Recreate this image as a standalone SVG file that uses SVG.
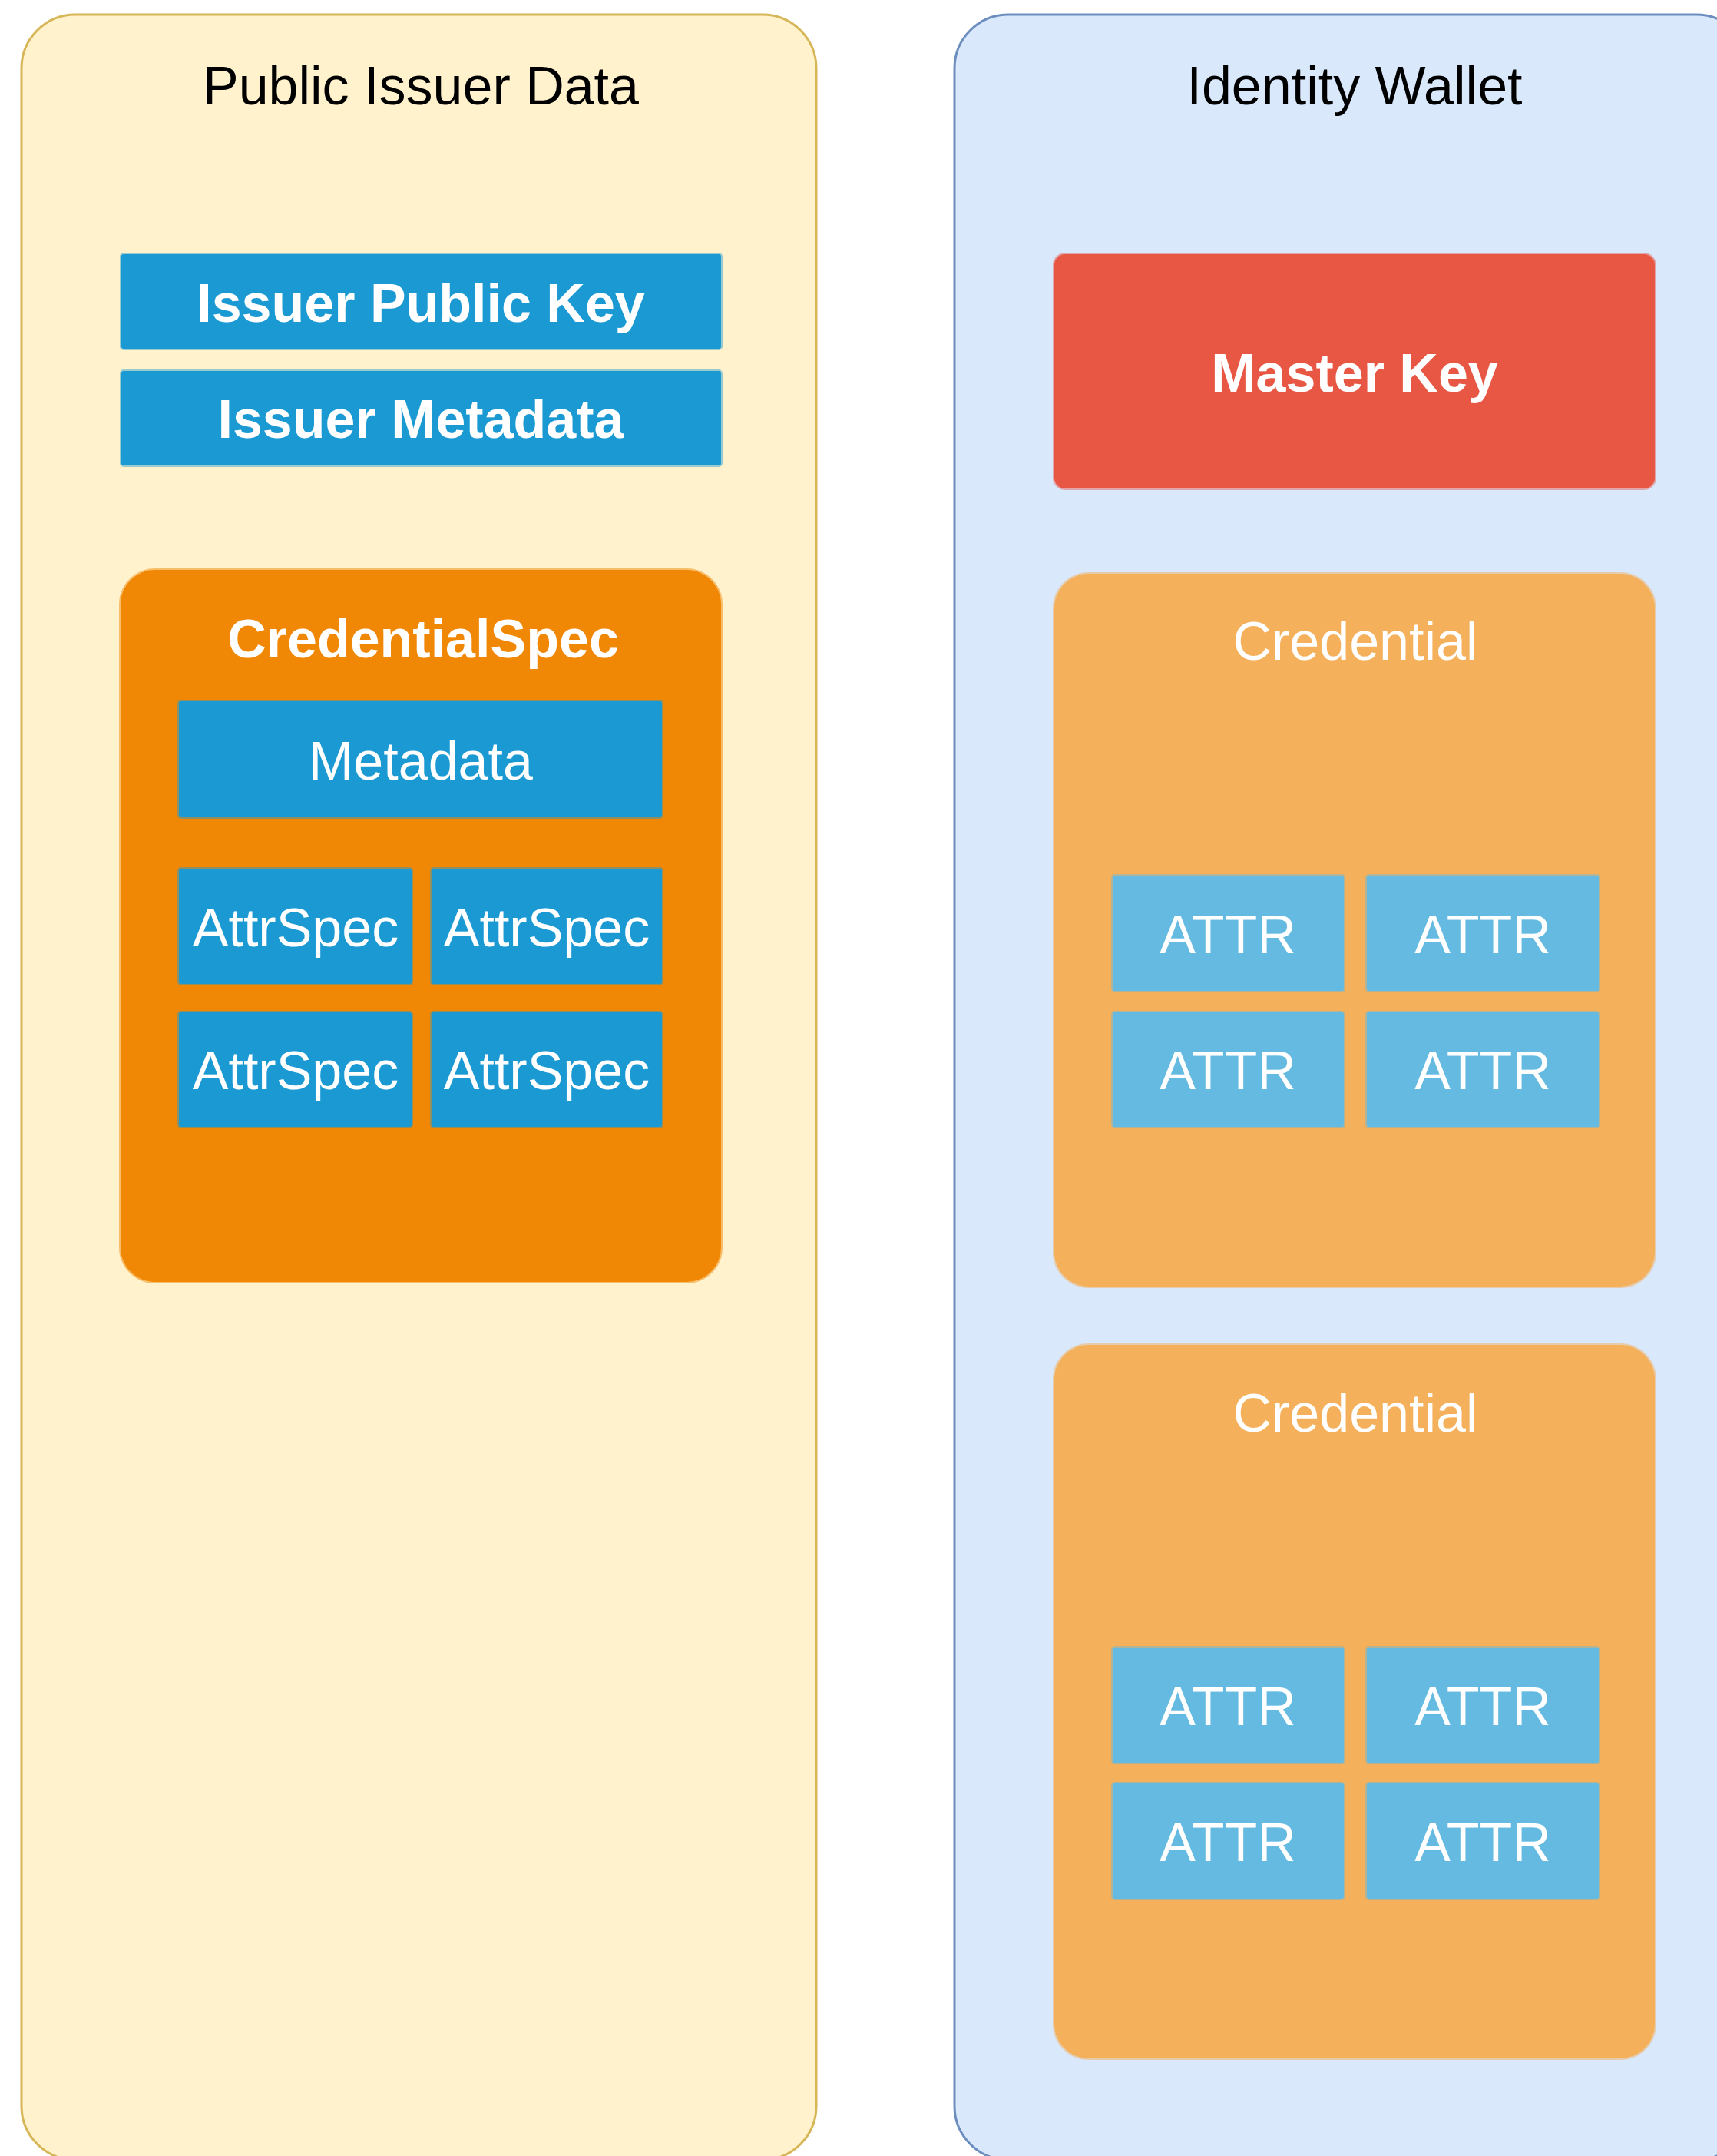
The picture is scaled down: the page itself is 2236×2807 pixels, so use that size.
<svg xmlns="http://www.w3.org/2000/svg" width="2236" height="2807" viewBox="0 0 2236 2807">
<style>
text{font-family:"Liberation Sans",Arial,Helvetica,sans-serif;font-size:70px;text-anchor:middle}
.title{fill:#000}
.w{fill:#fff}
.b{font-weight:bold}
.blue{fill:#1a99d3;stroke:#1a99d3;stroke-opacity:.45;stroke-width:4}
.attr{fill:#64bae1;stroke:#64bae1;stroke-opacity:.45;stroke-width:4}
</style>
<rect width="2236" height="2807" fill="#ffffff"/>
<g id="public-issuer-data">
<rect x="28" y="19" width="1035" height="2793" rx="70" ry="70" fill="#fff2cc" stroke="#d6b656" stroke-width="3"/>
<text class="title" x="548" y="136">Public Issuer Data</text>
</g>
<g id="issuer-public-key">
<rect class="blue" x="158" y="331" width="781" height="123" rx="3"/>
<text class="w b" x="548" y="419">Issuer Public Key</text>
</g>
<g id="issuer-metadata">
<rect class="blue" x="158" y="483" width="781" height="123" rx="3"/>
<text class="w b" x="548" y="570">Issuer Metadata</text>
</g>
<g id="credential-spec">
<rect x="157" y="742" width="782" height="927" rx="45" ry="45" fill="#f08705" stroke="#f08705" stroke-opacity=".5" stroke-width="4"/>
<text class="w b" x="551" y="856">CredentialSpec</text>
</g>
<g id="metadata">
<rect class="blue" x="233" y="913" width="629" height="151" rx="3"/>
<text class="w" x="548" y="1015">Metadata</text>
</g>
<g id="attrspec-1">
<rect class="blue" x="233" y="1131" width="303" height="150" rx="3"/>
<text class="w" x="385" y="1232">AttrSpec</text>
</g>
<g id="attrspec-2">
<rect class="blue" x="562" y="1131" width="300" height="150" rx="3"/>
<text class="w" x="712" y="1232">AttrSpec</text>
</g>
<g id="attrspec-3">
<rect class="blue" x="233" y="1318" width="303" height="149" rx="3"/>
<text class="w" x="385" y="1418">AttrSpec</text>
</g>
<g id="attrspec-4">
<rect class="blue" x="562" y="1318" width="300" height="149" rx="3"/>
<text class="w" x="712" y="1418">AttrSpec</text>
</g>
<g id="identity-wallet">
<rect x="1243" y="19" width="1036" height="2793" rx="70" ry="70" fill="#dae8fc" stroke="#6c8ebf" stroke-width="3"/>
<text class="title" x="1764" y="136">Identity Wallet</text>
</g>
<g id="master-key">
<rect x="1373" y="331" width="782" height="305" rx="14" ry="14" fill="#e85744" stroke="#e85744" stroke-opacity=".45" stroke-width="4"/>
<text class="w b" x="1764" y="510">Master Key</text>
</g>
<g id="credential-1">
<rect x="1373" y="747" width="782" height="928" rx="45" ry="45" fill="#f4b05b" stroke="#f4b05b" stroke-opacity=".5" stroke-width="4"/>
<text class="w" x="1765" y="859">Credential</text>
</g>
<g id="attr-1-1"><rect class="attr" x="1449" y="1140" width="301" height="150" rx="3"/><text class="w" x="1599" y="1241">ATTR</text></g>
<g id="attr-1-2"><rect class="attr" x="1780" y="1140" width="302" height="150" rx="3"/><text class="w" x="1931" y="1241">ATTR</text></g>
<g id="attr-1-3"><rect class="attr" x="1449" y="1318" width="301" height="149" rx="3"/><text class="w" x="1599" y="1418">ATTR</text></g>
<g id="attr-1-4"><rect class="attr" x="1780" y="1318" width="302" height="149" rx="3"/><text class="w" x="1931" y="1418">ATTR</text></g>
<g id="credential-2">
<rect x="1373" y="1751" width="782" height="929" rx="45" ry="45" fill="#f4b05b" stroke="#f4b05b" stroke-opacity=".5" stroke-width="4"/>
<text class="w" x="1765" y="1864">Credential</text>
</g>
<g id="attr-2-1"><rect class="attr" x="1449" y="2145" width="301" height="150" rx="3"/><text class="w" x="1599" y="2246">ATTR</text></g>
<g id="attr-2-2"><rect class="attr" x="1780" y="2145" width="302" height="150" rx="3"/><text class="w" x="1931" y="2246">ATTR</text></g>
<g id="attr-2-3"><rect class="attr" x="1449" y="2322" width="301" height="150" rx="3"/><text class="w" x="1599" y="2423">ATTR</text></g>
<g id="attr-2-4"><rect class="attr" x="1780" y="2322" width="302" height="150" rx="3"/><text class="w" x="1931" y="2423">ATTR</text></g>
<g id="connectors"></g>
</svg>
